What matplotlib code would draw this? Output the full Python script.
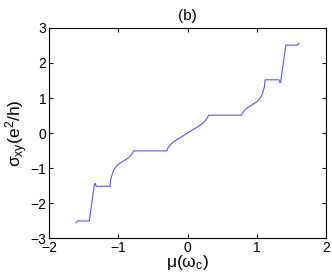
import numpy as np
import matplotlib
matplotlib.use("Agg")
from matplotlib import pyplot as plt

plt.rcParams['font.family'] = ['Liberation Sans', 'DejaVu Sans']

# right half of the curve (mu >= 0); the curve is odd in mu
mu_half = [0.0, 0.04, 0.08, 0.12, 0.16, 0.20, 0.23, 0.25, 0.27, 0.285, 0.295, 0.30,
           0.78, 0.79, 0.806, 0.855, 0.927, 1.00, 1.047, 1.065, 1.08, 1.10, 1.11, 1.12,
           1.32, 1.335, 1.345, 1.38, 1.42, 1.59, 1.61]
sigma_half = [0.0, 0.05, 0.10, 0.15, 0.195, 0.25, 0.30, 0.34, 0.39, 0.43, 0.47, 0.51,
              0.51, 0.55, 0.61, 0.71, 0.80, 0.89, 0.99, 1.05, 1.13, 1.25, 1.32, 1.52,
              1.52, 1.44, 1.46, 1.95, 2.51, 2.51, 2.56]

mu = np.concatenate([-np.array(mu_half[:0:-1]), mu_half])
sigma = np.concatenate([-np.array(sigma_half[:0:-1]), sigma_half])

fig = plt.figure(figsize=(3.32, 2.74), dpi=100)
ax = fig.add_axes([0.148, 0.131, 0.834, 0.767])
ax.plot(mu, sigma, color='#5555ff', lw=0.8)

ax.set_xlim(-2, 2)
ax.set_ylim(-3, 3)
ax.set_xticks([-2, -1, 0, 1, 2])
ax.set_yticks([-3, -2, -1, 0, 1, 2, 3])
ax.tick_params(direction='in', top=True, right=True, labelsize=10, length=3, pad=2)
for s in ax.spines.values():
    s.set_linewidth(0.8)

ax.set_title('(b)', fontsize=11, pad=6)
ax.set_xlabel(r'μ(ω$\mathregular{_c}$)', fontsize=12.5, labelpad=-1)
ax.set_ylabel(r'σ$\mathregular{_{xy}}$(e$\mathregular{^2}$/h)', fontsize=12.5, labelpad=0)

fig.savefig('out.png', dpi=100)
